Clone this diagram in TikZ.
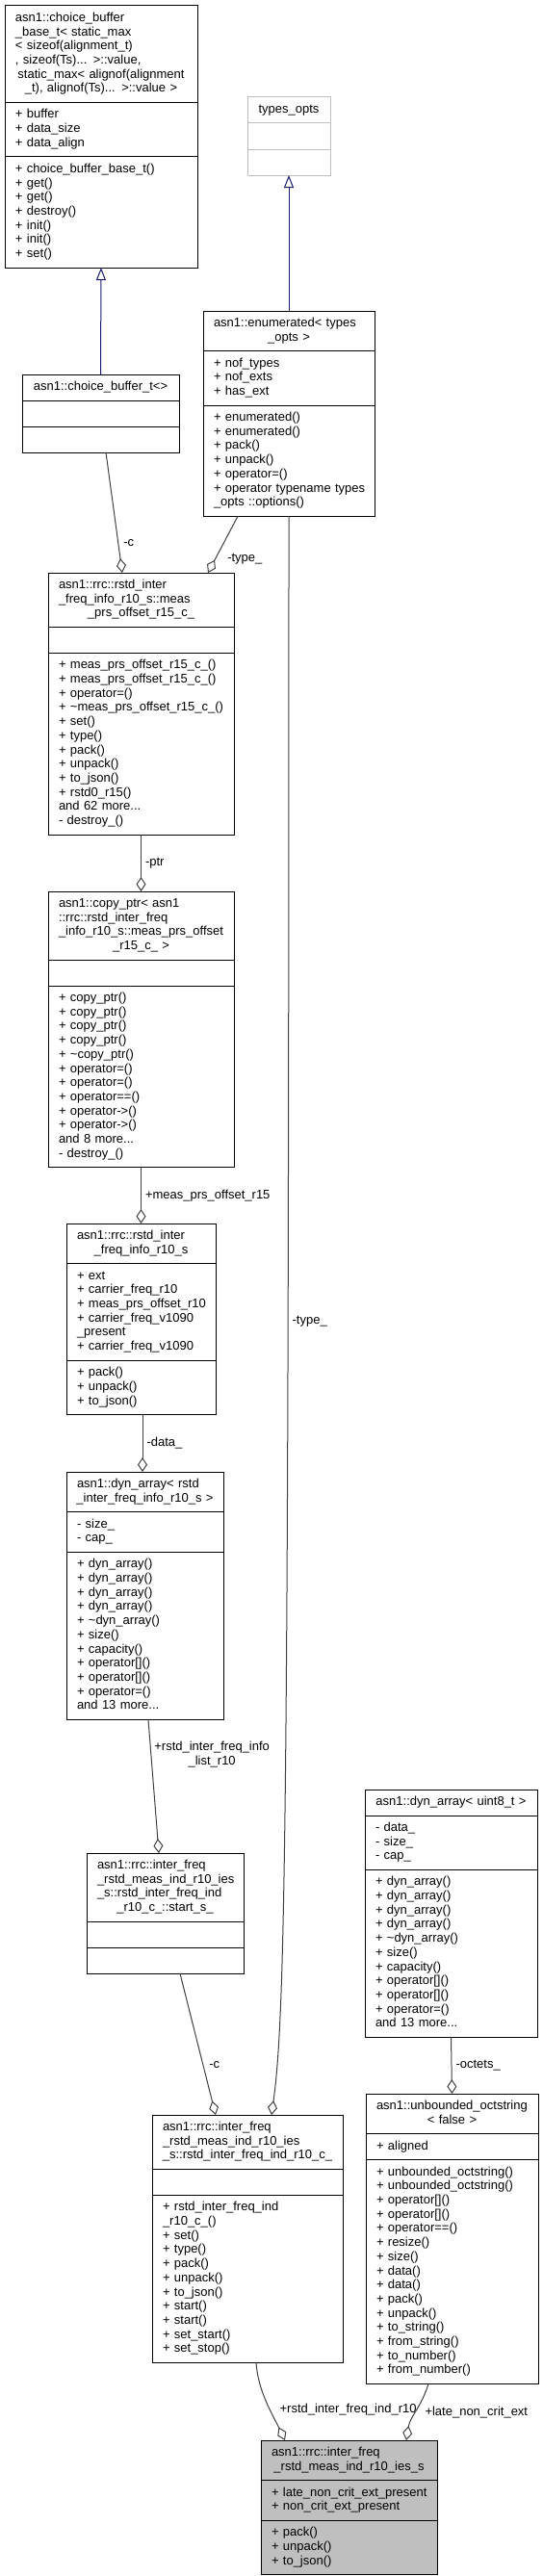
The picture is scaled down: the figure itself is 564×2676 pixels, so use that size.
\documentclass[tikz,border=0pt]{standalone}
\usepackage{fontspec}
\setmainfont{Liberation Sans}
\usetikzlibrary{shapes.multipart}
\usetikzlibrary{arrows.meta}
\setlength{\parindent}{0pt}
\definecolor{edgegray}{HTML}{404040}
\definecolor{inhblue}{HTML}{191970}
\definecolor{boxgray}{HTML}{BFBFBF}
\newcommand{\umlfont}{\fontsize{13}{14.7}\selectfont}
\newcommand{\umldots}{...}
\newcommand{\umlc}[1]{\hbox to\hsize{\hss#1\hss}}
\newcommand{\umlrows}[1]{\foreach \rowtext [count=\rowno] in {#1}{\ifnum\rowno>1 \\\fi\strut\mbox{\rowtext}}}

\begin{document}
\begin{tikzpicture}[x=1pt,y=-1pt,line width=1pt]
			\tikzstyle{umlclass}=[rectangle split,rectangle split parts=3,draw=black,fill=white,anchor=north west,
			inner xsep=11pt,inner ysep=5.65pt,outer sep=0pt,align=left,font=\umlfont]
			\tikzstyle{member}=[draw=edgegray,-{Diamond[open,length=15pt,width=10pt]}]
			\tikzstyle{inherit}=[draw=inhblue,-{Triangle[open,length=13pt,width=10pt]}]
			\tikzstyle{lbl}=[font=\umlfont,inner sep=0pt,text=black]
			\useasboundingbox (0,0) rectangle (564,2676);
			
			\node[umlclass,text width=178pt] (cbbase) at (5,6) {\umlrows{asn1::choice\_buffer, \_base\_t< static\_max, {< sizeof(alignment\_t)}, {, sizeof(Ts)\umldots{} >::value,}, {\umlc{static\_max< alignof(alignment}}, {\umlc{\_t), alignof(Ts)\umldots{} >::value >}}}%
				\nodepart{second}\umlrows{+ buffer, + data\_size, + data\_align}%
				\nodepart{third}\umlrows{+ choice\_buffer\_base\_t(), + get(), + get(), + destroy(), + init(), + init(), + set()}};
			\node[umlclass,draw=boxgray,text width=64pt] (topts) at (257,101) {\umlrows{{\umlc{types\_opts}}}%
				\nodepart{second}\strut\nodepart{third}\strut};
			\node[umlclass,text width=156pt] (enum) at (211,323) {\umlrows{asn1::enumerated< types, {\umlc{\_opts >}}}%
				\nodepart{second}\umlrows{+ nof\_types, + nof\_exts, + has\_ext}%
				\nodepart{third}\umlrows{+ enumerated(), + enumerated(), + pack(), + unpack(), + operator=(), + operator typename types, \_opts ::options()}};
			\node[umlclass,text width=141pt] (cbt) at (23,389) {\umlrows{{\umlc{asn1::choice\_buffer\_t<>}}}%
				\nodepart{second}\strut\nodepart{third}\strut};
			\node[umlclass,text width=171pt] (meas) at (50,595) {\umlrows{asn1::rrc::rstd\_inter, \_freq\_info\_r10\_s::meas, {\umlc{\_prs\_offset\_r15\_c\_}}}%
				\nodepart{second}\strut
				\nodepart{third}\umlrows{+ meas\_prs\_offset\_r15\_c\_(), + meas\_prs\_offset\_r15\_c\_(), + operator=(), + \textasciitilde meas\_prs\_offset\_r15\_c\_(), + set(), + type(), + pack(), + unpack(), + to\_json(), + rstd0\_r15(), and 62 more\umldots, - destroy\_()}};
			\node[umlclass,text width=171pt] (cptr) at (50,926) {\umlrows{asn1::copy\_ptr< asn1, ::rrc::rstd\_inter\_freq, \_info\_r10\_s::meas\_prs\_offset, {\umlc{\_r15\_c\_ >}}}%
				\nodepart{second}\strut
				\nodepart{third}\umlrows{+ copy\_ptr(), + copy\_ptr(), + copy\_ptr(), + copy\_ptr(), + \textasciitilde copy\_ptr(), + operator=(), + operator=(), + operator==(), + operator->(), + operator->(), and 8 more\umldots, - destroy\_()}};
			\node[umlclass,text width=133pt] (info) at (69,1271) {\umlrows{asn1::rrc::rstd\_inter, {\umlc{\_freq\_info\_r10\_s}}}%
				\nodepart{second}\umlrows{+ ext, + carrier\_freq\_r10, + meas\_prs\_offset\_r10, + carrier\_freq\_v1090, \_present, + carrier\_freq\_v1090}%
				\nodepart{third}\umlrows{+ pack(), + unpack(), + to\_json()}};
			\node[umlclass,text width=141pt] (darr) at (69,1529) {\umlrows{asn1::dyn\_array< rstd, {\umlc{\_inter\_freq\_info\_r10\_s >}}}%
				\nodepart{second}\umlrows{- size\_, - cap\_}%
				\nodepart{third}\umlrows{+ dyn\_array(), + dyn\_array(), + dyn\_array(), + dyn\_array(), + \textasciitilde dyn\_array(), + size(), + capacity(), + operator[](), + operator[](), + operator=(), and 13 more\umldots}};
			\node[umlclass,text width=141pt] (start) at (90,1925) {\umlrows{asn1::rrc::inter\_freq, \_rstd\_meas\_ind\_r10\_ies, \_s::rstd\_inter\_freq\_ind, {\umlc{\_r10\_c\_::start\_s\_}}}%
				\nodepart{second}\strut\nodepart{third}\strut};
			\node[umlclass,text width=176pt] (ind) at (158,2197) {\umlrows{asn1::rrc::inter\_freq, \_rstd\_meas\_ind\_r10\_ies, {\umlc{\_s::rstd\_inter\_freq\_ind\_r10\_c\_}}}%
				\nodepart{second}\strut
				\nodepart{third}\umlrows{+ rstd\_inter\_freq\_ind, \_r10\_c\_(), + set(), + type(), + pack(), + unpack(), + to\_json(), + start(), + start(), + set\_start(), + set\_stop()}};
			\node[umlclass,text width=157pt] (u8arr) at (379,1859) {\umlrows{{\umlc{asn1::dyn\_array< uint8\_t >}}}%
				\nodepart{second}\umlrows{- data\_, - size\_, - cap\_}%
				\nodepart{third}\umlrows{+ dyn\_array(), + dyn\_array(), + dyn\_array(), + dyn\_array(), + \textasciitilde dyn\_array(), + size(), + capacity(), + operator[](), + operator[](), + operator=(), and 13 more\umldots}};
			\node[umlclass,text width=157pt] (octs) at (380,2175) {\umlrows{asn1::unbounded\_octstring, {\umlc{< false >}}}%
				\nodepart{second}\umlrows{+ aligned}%
				\nodepart{third}\umlrows{+ unbounded\_octstring(), + unbounded\_octstring(), + operator[](), + operator[](), + operator==(), + resize(), + size(), + data(), + data(), + pack(), + unpack(), + to\_string(), + from\_string(), + to\_number(), + from\_number()}};
			\node[umlclass,fill=boxgray,text width=161pt] (mainies) at (271,2535) {\umlrows{asn1::rrc::inter\_freq, {\umlc{\_rstd\_meas\_ind\_r10\_ies\_s}}}%
				\nodepart{second}\umlrows{+ late\_non\_crit\_ext\_present, + non\_crit\_ext\_present}%
				\nodepart{third}\umlrows{+ pack(), + unpack(), + to\_json()}};
			
			\draw[inherit] (cbt.north) -- (cbbase.south);
			\draw[inherit] (enum.north) -- (topts.south);
			\draw[member] ([xshift=5.5pt]cbt.south) -- ([xshift=-19.5pt]meas.north) node[lbl,pos=0.75,right=5pt] {-c};
			\draw[member] ([xshift=-53pt]enum.south) -- ([xshift=69.5pt]meas.north) node[lbl,pos=0.75,right=12pt] {-type\_};
			\draw[member] (meas.south) -- (cptr.north) node[lbl,midway,right=4pt] {-ptr};
			\draw[member] (cptr.south) -- (info.north) node[lbl,midway,right=4pt] {+meas\_prs\_offset\_r15};
			\draw[member] ([xshift=1.5pt]info.south) -- ([xshift=-2.5pt]darr.north) node[lbl,midway,right=4pt] {-data\_};
			\draw[member] ([xshift=3.5pt]darr.south) -- ([xshift=-6.5pt]start.north) node[lbl,pos=0.26,right=3pt,align=center] {+rstd\_inter\_freq\_info\\\_list\_r10};
			\draw[member] (enum.south) .. controls +(0,1370) and +(14,-100) .. ([xshift=25pt]ind.north) node[lbl,pos=0.255,right=4pt] {-type\_};
			\draw[member] ([xshift=15.5pt]start.south) -- ([xshift=-33pt]ind.north) node[lbl,pos=0.645,right=6pt] {-c};
			\draw[member] (u8arr.south) -- (octs.north) node[lbl,midway,right=4pt] {-octets\_};
			\draw[member] ([xshift=9pt]ind.south) .. controls +(2,30) and +(-12,-25) .. ([xshift=-66.5pt]mainies.north) node[lbl,pos=0.58,right=10pt] {+rstd\_inter\_freq\_ind\_r10};
			\draw[member] ([xshift=-24.5pt]octs.south) .. controls +(-8,25) and +(4,-25) .. ([xshift=59.5pt]mainies.north) node[lbl,pos=0.5,right=9pt] {+late\_non\_crit\_ext};
			
\end{tikzpicture}
\end{document}
